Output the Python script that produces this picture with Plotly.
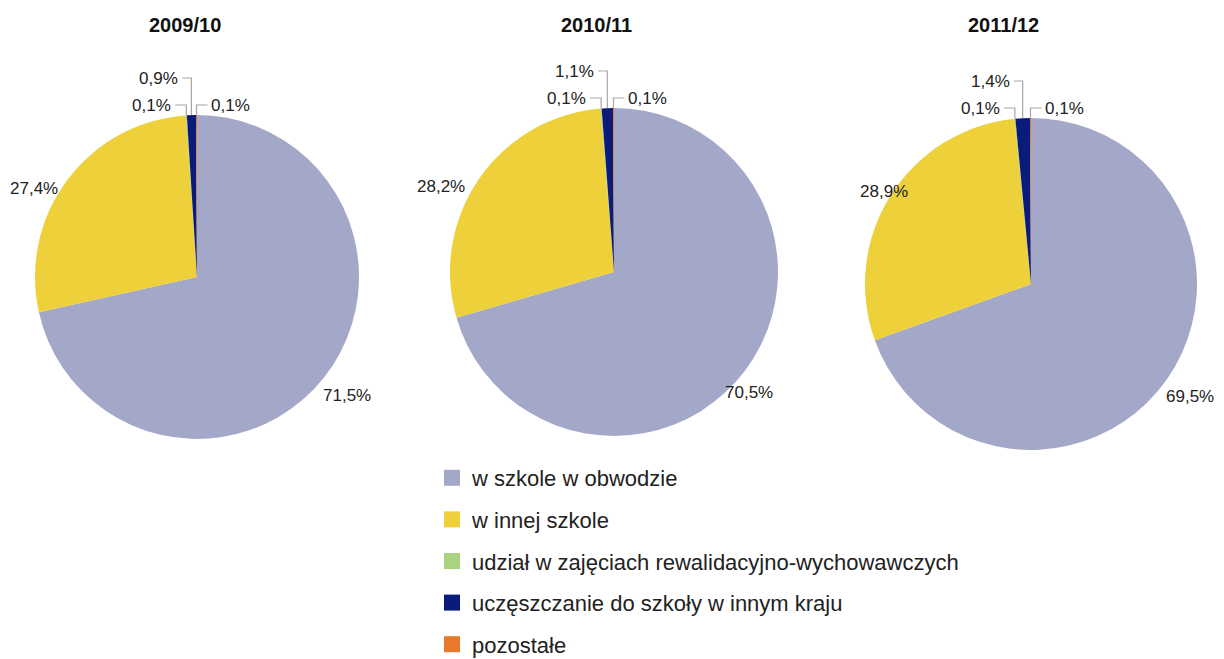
import math
import plotly.graph_objects as go

# --- dane ---
years = ['2009/10', '2010/11', '2011/12']
categories = [
    'w szkole w obwodzie',
    'w innej szkole',
    'udział w zajęciach rewalidacyjno-wychowawczych',
    'uczęszczanie do szkoły w innym kraju',
    'pozostałe',
]
shares_2009 = [71.5, 27.4, 0.1, 0.9, 0.1]
shares_2010 = [70.5, 28.2, 0.1, 1.1, 0.1]
shares_2011 = [69.5, 28.9, 0.1, 1.4, 0.1]
colors = ['#A4A8C8', '#EDD03A', '#A9D37F', '#0B1B7A', '#E8792B']

# --- układ (piksele okna; strona ma 8 px marginesu body) ---
W, H = 1224, 659
PAD = 8
pies = [(197, 277, 162), (614, 272, 164), (1031, 284, 166)]  # środek x, y, promień
title_x = [185, 596, 1003]
# położenie etykiet dwóch dużych wycinków względem środka
big_label_offsets = [
    {0: (150, 118), 1: (-163, -89)},
    {0: (135, 120), 1: (-173, -86)},
    {0: (159, 112), 1: (-147, -93)},
]
# małe wycinki: (wysokość nad kołem, strona, długość poziomej linii)
small_leaders = {2: (10, -1, 11), 3: (37, -1, 9), 4: (10, 1, 11)}

LABEL_FONT = dict(family='Arial, Liberation Sans, sans-serif', size=17, color='#222')
LEADER_COLOR = '#A6A6A6'
FW, FH = W - PAD, H - PAD


def fmt(v):
    return f'{v:.1f}%'.replace('.', ',')


fig = go.Figure()
annotations = []

for year, shares, (cx, cy, r), offs, tx in zip(
        years, [shares_2009, shares_2010, shares_2011], pies, big_label_offsets, title_x):
    fig.add_trace(go.Pie(
        values=shares, labels=categories,
        marker=dict(colors=colors, line=dict(width=0)),
        sort=False, direction='clockwise', rotation=0,
        textinfo='none', hoverinfo='label+percent', showlegend=False,
        domain=dict(x=[(cx - r - PAD) / FW, (cx + r - PAD) / FW],
                    y=[1 - (cy + r - PAD) / FH, 1 - (cy - r - PAD) / FH]),
    ))

    annotations.append(dict(
        x=tx, y=25, xref='x', yref='y', text=f'<b>{year}</b>', showarrow=False,
        font=dict(family='Arial, Liberation Sans, sans-serif', size=20, color='#111'),
    ))

    total = sum(shares)
    cum = 0
    for i, v in enumerate(shares):
        frac = (cum + v / 2) / total
        cum += v
        theta = 2 * math.pi * frac
        px = cx + r * math.sin(theta)
        py = cy - r * math.cos(theta)
        if i in offs:
            dx, dy = offs[i]
            annotations.append(dict(
                x=cx + dx, y=cy + dy, xref='x', yref='y', text=fmt(v),
                showarrow=False, font=LABEL_FONT, xanchor='center', yanchor='middle',
            ))
        else:
            rise, side, run = small_leaders[i]
            ey = cy - r - rise
            ex = px + side * run
            fig.add_trace(go.Scatter(
                x=[px, px, ex], y=[py, ey, ey], mode='lines',
                line=dict(color=LEADER_COLOR, width=1.2),
                hoverinfo='skip', showlegend=False,
            ))
            annotations.append(dict(
                x=ex + side * 2, y=ey, xref='x', yref='y', text=fmt(v),
                showarrow=False, font=LABEL_FONT,
                xanchor='left' if side > 0 else 'right', yanchor='middle',
            ))

# legenda
for i, (cat, col) in enumerate(zip(categories, colors)):
    fig.add_trace(go.Scatter(
        x=[None], y=[None], mode='markers', name=cat, legendgroup=f'g{i}',
        marker=dict(symbol='square', size=18, color=col),
    ))

fig.update_layout(
    width=FW, height=FH,
    margin=dict(l=0, r=0, t=0, b=0, autoexpand=False),
    paper_bgcolor='white', plot_bgcolor='white',
    xaxis=dict(range=[PAD, W], visible=False, fixedrange=True),
    yaxis=dict(range=[H, PAD], visible=False, fixedrange=True),
    annotations=annotations,
    legend=dict(
        x=(432 - PAD) / FW, y=1 - (457 - PAD) / FH, xanchor='left', yanchor='top',
        font=dict(family='Arial, Liberation Sans, sans-serif', size=22, color='#222'),
        tracegroupgap=10, bgcolor='rgba(0,0,0,0)', itemclick=False,
    ),
)

fig.write_html('out.html')
